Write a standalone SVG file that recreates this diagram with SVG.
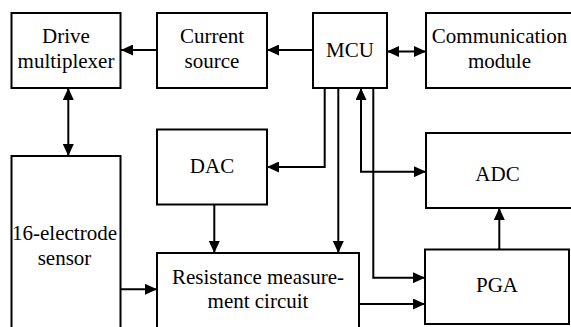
<svg xmlns="http://www.w3.org/2000/svg" width="571" height="327" viewBox="0 0 571 327" font-family="Liberation Serif, Times New Roman, DejaVu Serif, serif">
<style>
.box{fill:#fff;stroke:#000;stroke-width:2}
.lbl{font-size:21px;fill:#000;text-anchor:middle}
.c{fill:none;stroke:#000;stroke-width:2}
</style>
<defs>
<marker id="ah" markerUnits="userSpaceOnUse" markerWidth="12" markerHeight="11" refX="12" refY="5.5" orient="auto-start-reverse">
<path d="M0,0 L12,5.5 L0,11 z" fill="#000"/>
</marker>
</defs>
<rect width="571" height="327" fill="#fff"/>
<g id="drive"><rect class="box" x="11.5" y="13" width="109" height="75"/><text class="lbl" x="66" y="43">Drive</text><text class="lbl" x="66" y="68">multiplexer</text></g>
<g id="current"><rect class="box" x="157" y="13" width="110" height="75"/><text class="lbl" x="212" y="43">Current</text><text class="lbl" x="212" y="68">source</text></g>
<g id="mcu"><rect class="box" x="313" y="13" width="74" height="75"/><text class="lbl" x="350" y="57">MCU</text></g>
<g id="comm"><rect class="box" x="426" y="13" width="150" height="75"/><text class="lbl" x="499.5" y="43">Communication</text><text class="lbl" x="499.5" y="68">module</text></g>
<g id="dac"><rect class="box" x="157" y="129.5" width="110" height="75"/><text class="lbl" x="212" y="173">DAC</text></g>
<g id="sensor"><rect class="box" x="11.5" y="156" width="109" height="200"/><text class="lbl" x="64.5" y="240">16-electrode</text><text class="lbl" x="64.5" y="265">sensor</text></g>
<g id="resistance"><rect class="box" x="157" y="253" width="202" height="100"/><text class="lbl" x="258" y="284">Resistance measure-</text><text class="lbl" x="258" y="308">ment circuit</text></g>
<g id="adc"><rect class="box" x="426" y="133" width="150" height="75"/><text class="lbl" x="497.5" y="181">ADC</text></g>
<g id="pga"><rect class="box" x="425" y="249.5" width="144" height="74.5"/><text class="lbl" x="497" y="292">PGA</text></g>
<g id="connectors">
<path class="c" d="M157,50 H121" marker-end="url(#ah)"/>
<path class="c" d="M313,50 H267" marker-end="url(#ah)"/>
<path class="c" d="M387,51.5 H426" marker-start="url(#ah)" marker-end="url(#ah)"/>
<path class="c" d="M68.3,88 V156" marker-start="url(#ah)" marker-end="url(#ah)"/>
<path class="c" d="M324.7,88 V167 H267" marker-end="url(#ah)"/>
<path class="c" d="M338.3,88 V253" marker-end="url(#ah)"/>
<path class="c" d="M361,88 V171.7 H426" marker-start="url(#ah)" marker-end="url(#ah)"/>
<path class="c" d="M373.3,88 V277.7 H425" marker-end="url(#ah)"/>
<path class="c" d="M214.3,204.5 V253" marker-end="url(#ah)"/>
<path class="c" d="M120.5,289.3 H157" marker-end="url(#ah)"/>
<path class="c" d="M359,304 H425" marker-end="url(#ah)"/>
<path class="c" d="M499.3,249.5 V208" marker-end="url(#ah)"/>
</g>
</svg>
